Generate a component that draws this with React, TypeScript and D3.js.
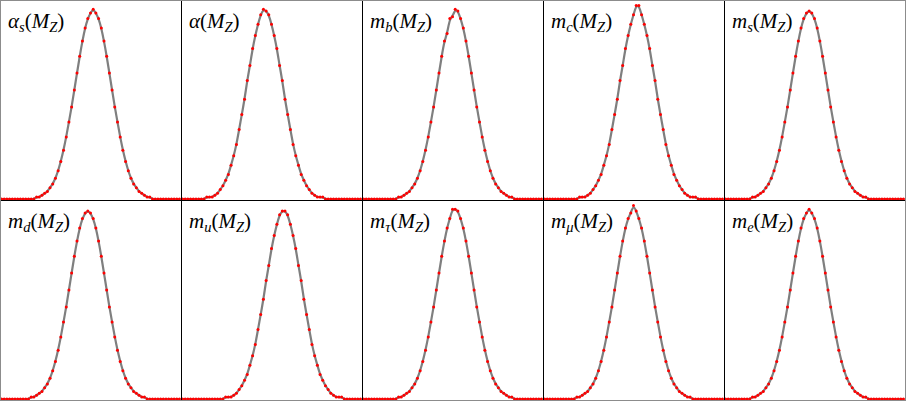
import React, { useRef, useEffect } from "react";
import * as d3 from "d3";

const W = 906;
const H = 402;

// label of each panel: base symbol and its subscript
const panelNames = [
  ["α", "s"], ["α", ""], ["m", "b"], ["m", "c"], ["m", "s"],
  ["m", "d"], ["m", "u"], ["m", "τ"], ["m", "μ"], ["m", "e"],
];

// red points (percent of peak), 67 bins per panel
const alphaS = [0,0,0,0,0,0,0,0,0,0,0,0,0, 1,1,2,3,4,6,8,11,15,20,26,33,41,49,58,67,76,84,91,96,99,101,99,96,91,84,76,67,58,49,41,33,26,20,15,11,8,6,4,3,2,1,1, 0,0,0,0,0,0,0,0,0,0,0];
const alpha = [0,0,0,0,0,0,0,0,0, 1,1,1,2,3,5,7,10,13,18,23,29,37,45,53,63,71,80,87,93,98,101,100,98,93,87,80,71,63,53,45,37,29,23,18,13,10,7,5,3,2,1,1,1, 0,0,0,0,0,0,0,0,0,0,0,0,0,0];
const mB = [0,0,0,0,0,0,0,0,0,0,0,0,0, 1,1,2,3,4,6,8,11,15,20,26,33,41,49,58,67,76,84,88,96,97,101,100,96,91,84,76,67,58,49,41,33,26,20,15,11,8,6,4,3,2,1,1, 0,0,0,0,0,0,0,0,0,0,0];
const mC = [0,0,0,0,0,0,0,0,0,0,0,0,0, 1,1,1,2,3,5,7,10,13,18,23,29,37,45,53,63,71,80,87,93,98,103,103,98,93,87,80,71,63,53,45,37,29,23,18,13,10,7,5,3,2,1,1,1, 0,0,0,0,0,0,0,0,0,0];
const mS = [0,0,0,0,0,0,0,0,0,0, 1,1,2,3,4,6,8,11,15,20,26,33,41,49,58,67,76,84,91,96,99,100,99,96,91,84,76,67,58,49,41,33,26,20,15,11,8,6,4,3,2,1,1, 0,0,0,0,0,0,0,0,0,0,0,0,0,0];
const mD = [0,0,0,0,0,0,0,0,0,0,0, 1,1,2,3,4,6,8,11,15,20,26,33,41,49,58,67,76,84,91,96,99,100,99,96,91,84,76,67,58,49,41,33,26,20,15,11,8,6,4,3,2,1,1, 0,0,0,0,0,0,0,0,0,0,0,0,0];
const mU = [0,0,0,0,0,0,0,0,0,0,0,0,0,0,0,0, 1,1,1,2,3,5,7,10,13,18,23,29,37,45,53,63,71,80,87,93,98,100,100,98,93,87,80,71,63,53,45,37,29,23,18,13,10,7,5,3,2,1,1,1, 0,0,0,0,0,0,0];
const mTau = [0,0,0,0,0,0,0,0,0,0,0,0,0, 1,1,2,3,4,6,8,11,15,20,26,33,41,49,58,67,76,84,91,96,101,101,100,96,91,84,76,67,58,49,41,33,26,20,15,11,8,6,4,3,2,1,1, 0,0,0,0,0,0,0,0,0,0,0];
const mMu = [0,0,0,0,0,0,0,0,0,0,0,0, 1,1,2,3,4,6,8,11,15,20,26,33,41,49,58,67,76,84,91,96,99,103,100,96,91,84,76,67,58,49,41,33,26,20,15,11,8,6,4,3,2,1,1, 0,0,0,0,0,0,0,0,0,0,0,0];
const mE = [0,0,0,0,0,0,0,0,0,0, 1,1,2,3,4,6,8,11,15,20,26,33,41,49,58,67,76,84,91,96,99,101,99,96,91,84,76,67,58,49,41,33,26,20,15,11,8,6,4,3,2,1,1, 0,0,0,0,0,0,0,0,0,0,0,0,0,0];

const series = [alphaS, alpha, mB, mC, mS, mD, mU, mTau, mMu, mE];

const App = () => {
  const svgRef = useRef<SVGSVGElement>(null);

  useEffect(() => {
    const svg = d3.select(svgRef.current);
    svg.selectAll("*").remove();

    const cols = 5;
    const rows = 2;
    const colX = d3.scaleLinear().domain([0, cols]).range([0, 905]);
    const rowY = d3.scaleLinear().domain([0, rows]).range([0, 400]);

    const x = d3.scaleLinear().domain([0, 66]).range([1.5, 179.5]);
    const y = d3.scaleLinear().domain([0, 105.6]).range([199, 0.5]);

    const line = d3.line<number>()
      .x((d, i) => x(i))
      .y(d => y(d))
      .curve(d3.curveBasis);

    series.forEach((vals, k) => {
      const c = k % cols;
      const r = Math.floor(k / cols);
      const g = svg.append("g")
        .attr("transform", `translate(${colX(c)},${rowY(r)})`);

      g.append("path")
        .datum(vals)
        .attr("d", line)
        .attr("fill", "none")
        .attr("stroke", "#7f7f7f")
        .attr("stroke-width", 2.2);

      g.selectAll("circle")
        .data(vals)
        .join("circle")
        .attr("cx", (d, i) => x(i))
        .attr("cy", d => y(d))
        .attr("r", 1.5)
        .attr("fill", "#ff0000");

      const [base, sub] = panelNames[k];
      const t = g.append("text")
        .attr("x", 8)
        .attr("y", 28)
        .attr("font-family", "'Liberation Serif', 'DejaVu Serif', serif")
        .attr("font-size", 21)
        .attr("fill", "#000");
      t.append("tspan").attr("font-style", "italic").text(base);
      if (sub) {
        t.append("tspan").attr("font-style", "italic").attr("font-size", 14.5).attr("dy", 4).text(sub);
      }
      t.append("tspan").attr("dy", sub ? -4 : 0).text("(");
      t.append("tspan").attr("font-style", "italic").text("M");
      t.append("tspan").attr("font-style", "italic").attr("font-size", 14.5).attr("dy", 4).text("Z");
      t.append("tspan").attr("dy", -4).text(")");
    });

    // frame: inner separators black, outer border gray
    d3.range(1, cols).forEach(c => {
      svg.append("line")
        .attr("x1", colX(c) + 0.5).attr("x2", colX(c) + 0.5)
        .attr("y1", 0).attr("y2", 401)
        .attr("stroke", "#000");
    });
    svg.append("line")
      .attr("x1", 0).attr("x2", 906)
      .attr("y1", rowY(1) + 0.5).attr("y2", rowY(1) + 0.5)
      .attr("stroke", "#000");
    svg.append("rect")
      .attr("x", 0.5).attr("y", 0.5)
      .attr("width", 905).attr("height", 400)
      .attr("fill", "none")
      .attr("stroke", "#8c8c8c");
  }, []);

  return (
    <div style={{ position: "absolute", left: 0, top: 0 }}>
      <svg ref={svgRef} width={W} height={H} style={{ display: "block", background: "#fff" }} />
    </div>
  );
};

export default App;
